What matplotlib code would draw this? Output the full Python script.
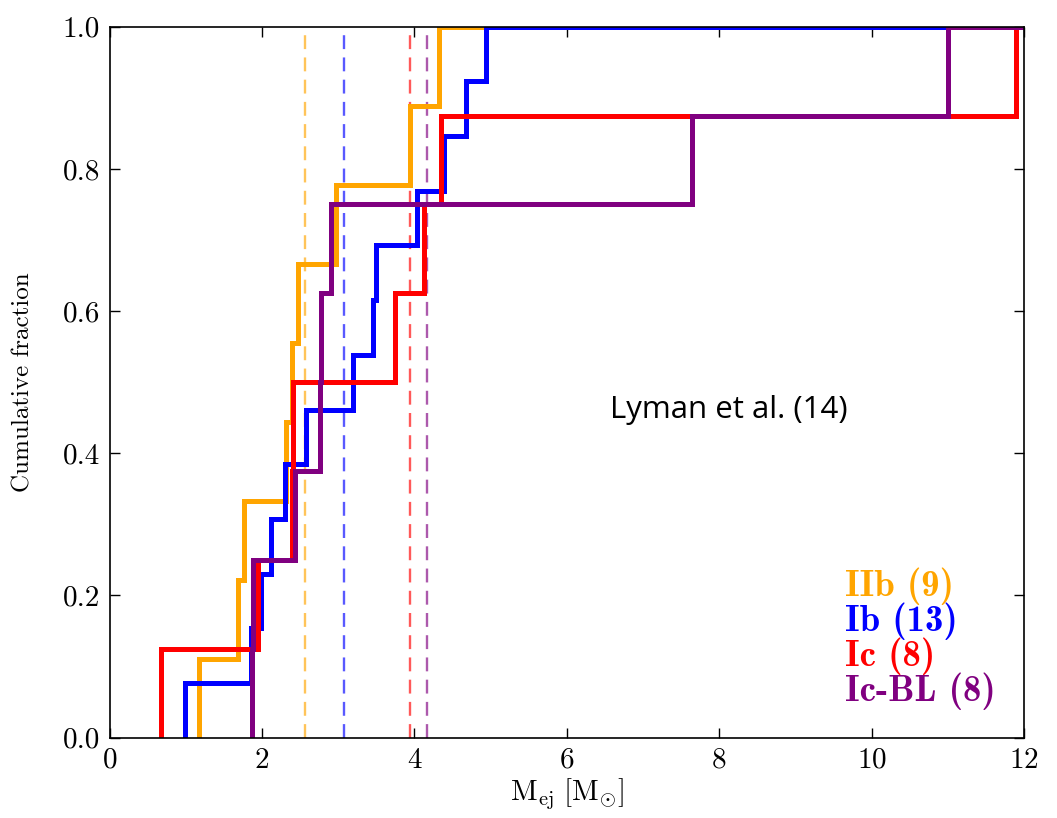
import matplotlib
matplotlib.use("Agg")
import matplotlib.pyplot as plt
import numpy as np

# Ejecta masses (M_sun) per SN type
m_IIb = [1.17, 1.69, 1.76, 2.31, 2.39, 2.47, 2.97, 3.94, 4.32]
m_Ib = [0.99, 1.86, 1.99, 2.12, 2.30, 2.58, 3.19, 3.46, 3.50, 4.04, 4.39, 4.68, 4.94]
m_Ic = [0.67, 1.95, 2.39, 2.41, 3.74, 4.13, 4.35, 11.90]
m_IcBL = [1.87, 1.88, 2.44, 2.76, 2.77, 2.91, 7.64, 11.00]

# Dashed vertical markers (mean values)
mean_IIb = 2.56
mean_Ib = 3.08
mean_Ic = 3.94
mean_IcBL = 4.16

labels = ["IIb (9)", "Ib (13)", "Ic (8)", "Ic-BL (8)"]
colors = ["#FFA500", "#0000FF", "#FF0000", "#800080"]

plt.rcParams['mathtext.fontset'] = 'cm'
plt.rcParams['font.family'] = ['cmr10', 'DejaVu Serif']
plt.rcParams['axes.formatter.use_mathtext'] = True
plt.rcParams['lines.scale_dashes'] = False

fig = plt.figure(figsize=(10.57, 8.18), dpi=100)
ax = fig.add_axes([0.1036, 0.0982, 0.8652, 0.8692])

series = [m_IIb, m_Ib, m_Ic, m_IcBL]
means = [mean_IIb, mean_Ib, mean_Ic, mean_IcBL]

for vals, mean, c in zip(series, means, colors):
    ax.axvline(mean, color=c, lw=1.7, alpha=0.65, linestyle=(0, (10, 6)))

for vals, c in zip(series, colors):
    v = np.sort(np.asarray(vals))
    n = len(v)
    xs = np.concatenate([[v[0]], v, [13.0]])
    ys = np.concatenate([[0.0], np.arange(1, n + 1) / n, [1.0]])
    ax.step(xs, ys, where='post', color=c, lw=3.6, solid_joinstyle='miter')

ax.set_xlim(0, 12)
ax.set_ylim(0, 1.0)
ax.set_xticks([0, 2, 4, 6, 8, 10, 12])
ax.set_yticks([0.0, 0.2, 0.4, 0.6, 0.8, 1.0])
ax.set_yticklabels(["0.0", "0.2", "0.4", "0.6", "0.8", "1.0"])
ax.tick_params(direction='in', top=True, right=True, length=7, width=1,
               labelsize=21, pad=7, colors='black')
for s in ax.spines.values():
    s.set_linewidth(1.2)

ax.set_ylabel("Cumulative fraction", fontsize=18)
ax.yaxis.set_label_coords(-0.082, 0.5)
ax.set_xlabel(r"$\mathrm{M_{ej}\ [M_{\odot}]}$", fontsize=21, labelpad=2)

ax.text(6.57, 0.45, "Lyman et al. (14)", fontsize=22.5, family="Open Sans",
        ha='left', va='baseline', color='black')

baselines_px = [596, 631, 666, 701]
for lab, c, bp in zip(labels, colors, baselines_px):
    fig.text(845 / 1057, 1 - bp / 818, lab, color=c, fontsize=26.5,
             family=['cmb10', 'DejaVu Serif'], ha='left', va='baseline')

fig.savefig("out.png", dpi=100)
